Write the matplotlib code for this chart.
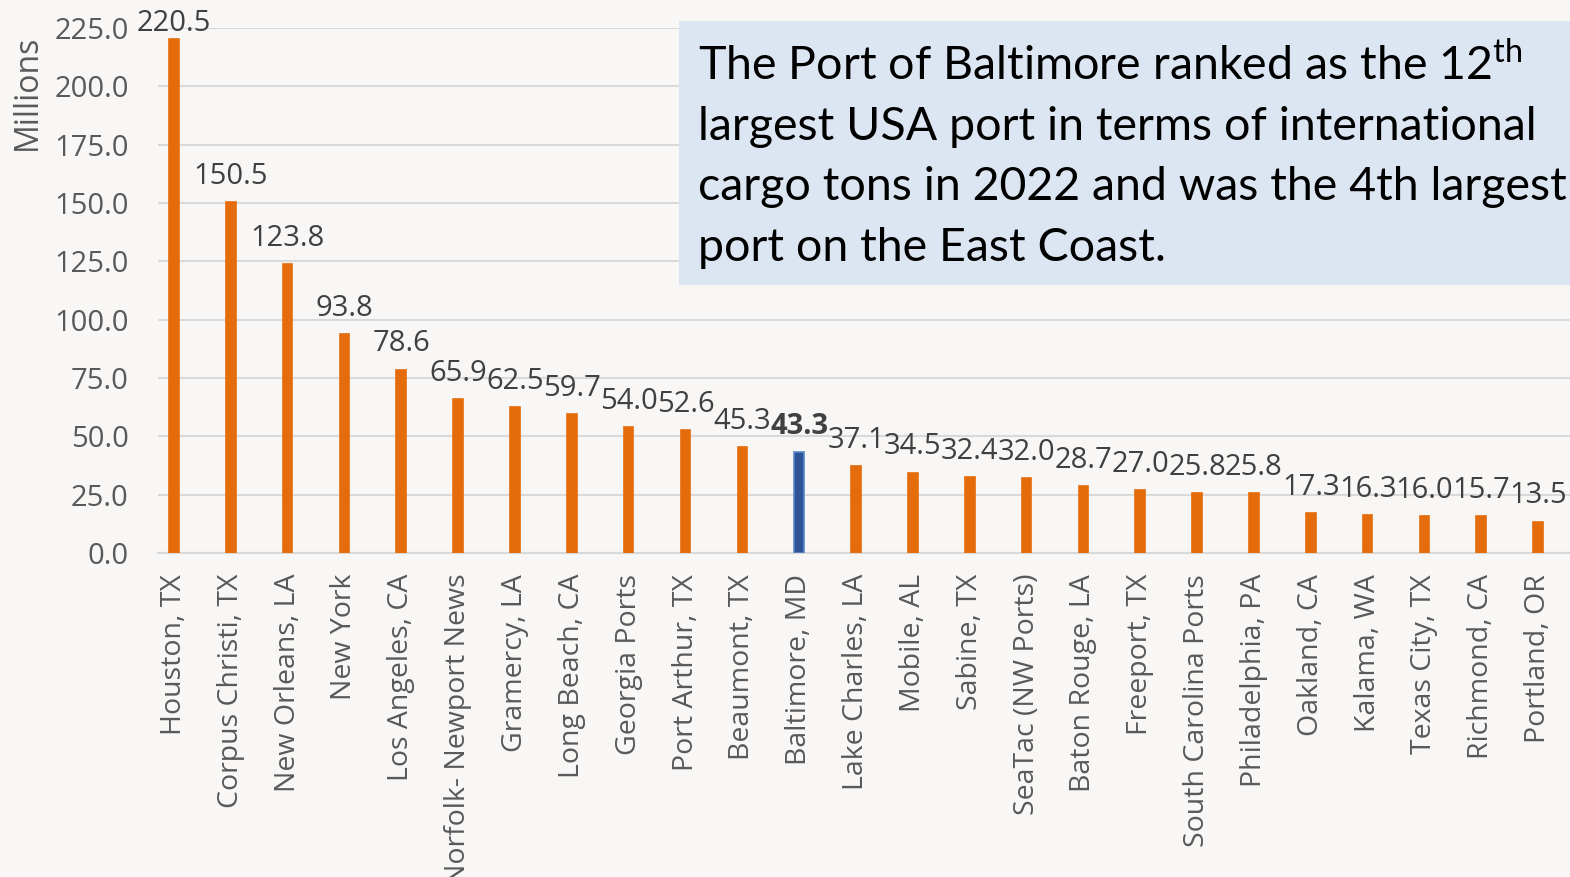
import matplotlib.pyplot as plt
from matplotlib.patches import Rectangle

# Data (international cargo tons, millions, 2022)
ports = ['Houston, TX', 'Corpus Christi, TX', 'New Orleans, LA', 'New York',
         'Los Angeles, CA', 'Norfolk- Newport News', 'Gramercy, LA',
         'Long Beach, CA', 'Georgia Ports', 'Port Arthur, TX', 'Beaumont, TX',
         'Baltimore, MD', 'Lake Charles, LA', 'Mobile, AL', 'Sabine, TX',
         'SeaTac (NW Ports)', 'Baton Rouge, LA', 'Freeport, TX',
         'South Carolina Ports', 'Philadelphia, PA', 'Oakland, CA',
         'Kalama, WA', 'Texas City, TX', 'Richmond, CA', 'Portland, OR']
tons = [220.5, 150.5, 123.8, 93.8, 78.6, 65.9, 62.5, 59.7, 54.0, 52.6, 45.3,
        43.3, 37.1, 34.5, 32.4, 32.0, 28.7, 27.0, 25.8, 25.8, 17.3, 16.3,
        16.0, 15.7, 13.5]
highlight = 'Baltimore, MD'
yticks = [0, 25, 50, 75, 100, 125, 150, 175, 200, 225]

orange = '#e46c0a'
grey_txt = '#595959'
label_txt = '#404040'

plt.rcParams['font.family'] = ['Open Sans', 'DejaVu Sans']

fig = plt.figure(figsize=(15.7, 8.77), dpi=100)
fig.patch.set_facecolor('#f8f7f5')
ax = fig.add_axes([158 / 1570, (877 - 553) / 877, (1570 - 158) / 1570, 525 / 877])
ax.set_facecolor('none')

x = list(range(len(ports)))
colors = ['#2e5495' if p == highlight else orange for p in ports]
edges = ['#5b86c9' if p == highlight else orange for p in ports]
ax.bar(x, tons, width=0.17, color=colors, edgecolor=edges, linewidth=1.2, zorder=3)

# data labels above bars (kept inside the chart area at the top, like Excel)
for xi, v, p in zip(x, tons, ports):
    ax.annotate(f'{v:.1f}', (xi, min(v, 215.8)), xytext=(0, 8),
                textcoords='offset points', ha='center', va='bottom',
                fontsize=21, color=label_txt,
                fontweight='bold' if p == highlight else 'normal', zorder=4)

ax.set_xlim(-0.28, 24.56)
ax.set_ylim(0, 225)
ax.set_yticks(yticks)
ax.set_yticklabels([f'{t:.1f}' for t in yticks])
ax.set_xticks(x)
ax.set_xticklabels(ports, rotation=90)
ax.tick_params(axis='y', length=0, pad=21, labelsize=21, labelcolor=grey_txt)
ax.tick_params(axis='x', length=0, pad=15, labelsize=20.5, labelcolor=grey_txt)
ax.grid(axis='y', color='#d9d9d9', linewidth=1.5, zorder=0)
for s in ['top', 'right', 'left']:
    ax.spines[s].set_visible(False)
ax.spines['bottom'].set_color('#d9d9d9')
ax.spines['bottom'].set_linewidth(1.5)

fig.text(27 / 1570, 1 - 92 / 877, 'Millions', rotation=90, ha='center',
         va='center', fontsize=23, color=grey_txt)

# callout box
fig.patches.append(Rectangle((679 / 1570, 1 - 285 / 877), (1570 - 679) / 1570,
                             (285 - 21) / 877, transform=fig.transFigure,
                             facecolor='#dce6f2', edgecolor='none', zorder=5))
plt.rcParams['mathtext.fontset'] = 'custom'
plt.rcParams['mathtext.rm'] = 'Lato'
lines = ['The Port of Baltimore ranked as the 12$^{\\mathrm{th}}$',
         'largest USA port in terms of international',
         'cargo tons in 2022 and was the 4th largest',
         'port on the East Coast.']
baselines = [80, 140, 200, 261]
for ln, b in zip(lines, baselines):
    fig.text(698 / 1570, 1 - b / 877, ln, ha='left', va='baseline',
             fontsize=33.5, color='black', family=['Lato', 'DejaVu Sans'], zorder=6)

fig.savefig('out.png', dpi=100, facecolor=fig.get_facecolor())
